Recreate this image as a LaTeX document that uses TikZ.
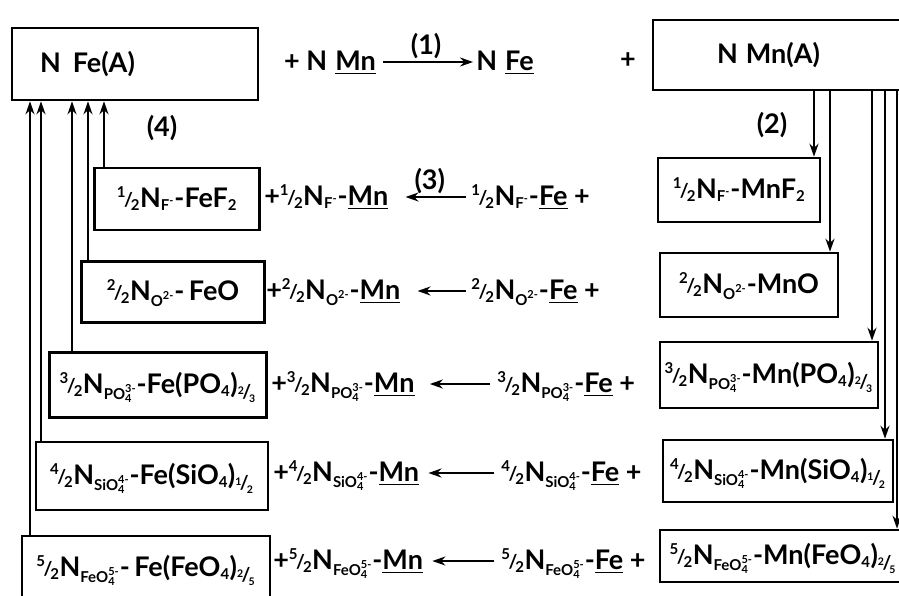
\documentclass[tikz,border=0pt]{standalone}
\usepackage{amsmath}
\usepackage{fontspec}
\setmainfont{Lato}
\usetikzlibrary{arrows.meta}
\DeclareMathSizes{27}{27}{15}{11}

\newcommand\fr[2]{${}^{\text{#1}}$\kern-2pt\raisebox{1pt}{\fontsize{19}{19}\selectfont/}\kern-2pt${}_{\text{#2}}$}
\newcommand\ion[3]{$_{\text{#1}^{\text{#3}}_{\text{#2}}}$}
\newcommand\lo[1]{$_{\text{#1}}$}

\begin{document}
\begin{tikzpicture}[
  x=1pt, y=-1pt,
  every node/.style={font=\fontsize{27}{29}\selectfont\bfseries, inner sep=0pt,
                     text height=20pt, text depth=4pt},
  box/.style={draw, line width=2.6pt},
  line width=2.6pt, ->, >={Stealth[length=13pt,width=9pt]}
]
  \useasboundingbox (0,0) rectangle (899,595);

  % top row
  \node[box, minimum width=246pt, minimum height=72pt, text width=190pt,
        align=left, inner xsep=28pt] (feA) at (135,64) {N\hspace{12pt}Fe(A)};
  \node (mnB) at (330,62) {+ N\hspace{8pt}\underline{Mn}};
  \node (feB) at (505,62) {N\hspace{8pt}\underline{Fe}};
  \node (pl)  at (628,60) {+};
  \node[box, minimum width=252pt, minimum height=70pt, text width=124pt,
        align=left, inner xsep=64pt] (mnA) at (779,55) {N\hspace{8pt}Mn(A)};
  \draw[shorten <=6pt, shorten >=2pt] (mnB) -- node[above=2pt] (s1) {(1)} (feB);

  \node (n4) at (162,128) {(4)};
  \node (n2) at (772,125) {(2)};

  % left boxes
  \node[box, minimum width=165pt, minimum height=62pt] (fe1) at (177,199)
    {\fr12N\ion{F}{}{-}-FeF\lo2};
  \node[box, minimum width=183pt, minimum height=61pt] (fe2) at (173,292)
    {\fr22N\ion{O}{}{2-}-\,FeO};
  \node[box, minimum width=217pt, minimum height=65pt] (fe3) at (158,385)
    {\fr32N\ion{PO}{4}{3-}-Fe(PO\lo4)\lo{\fr23}};
  \node[box, minimum width=232pt, minimum height=68pt] (fe4) at (152,476)
    {\fr42N\ion{SiO}{4}{4-}-Fe(SiO\lo4)\lo{\fr12}};
  \node[box, minimum width=248pt, minimum height=64pt] (fe5) at (146,568)
    {\fr52N\ion{FeO}{4}{5-}-\,Fe(FeO\lo4)\lo{\fr25}};

  % middle terms
  \node[anchor=west] (a1) at (263,197) {+\fr12N\ion{F}{}{-}-\underline{Mn}};
  \node[anchor=west] (b1) at (470,197) {\fr12N\ion{F}{}{-}-\underline{Fe} +};
  \node[anchor=west] (a2) at (265,291) {+\fr22N\ion{O}{}{2-}-\underline{Mn}};
  \node[anchor=west] (b2) at (470,291) {\fr22N\ion{O}{}{2-}-\underline{Fe} +};
  \node[anchor=west] (a3) at (270,384) {+\fr32N\ion{PO}{4}{3-}-\underline{Mn}};
  \node[anchor=west] (b3) at (496,384) {\fr32N\ion{PO}{4}{3-}-\underline{Fe} +};
  \node[anchor=west] (a4) at (272,473) {+\fr42N\ion{SiO}{4}{4-}-\underline{Mn}};
  \node[anchor=west] (b4) at (500,473) {\fr42N\ion{SiO}{4}{4-}-\underline{Fe} +};
  \node[anchor=west] (a5) at (272,561) {+\fr52N\ion{FeO}{4}{5-}-\underline{Mn}};
  \node[anchor=west] (b5) at (500,561) {\fr52N\ion{FeO}{4}{5-}-\underline{Fe} +};

  % right boxes
  \node[box, minimum width=162pt, minimum height=64pt] (mn1) at (739,190)
    {\fr12N\ion{F}{}{-}-MnF\lo2};
  \node[box, minimum width=178pt, minimum height=64pt] (mn2) at (749,285)
    {\fr22N\ion{O}{}{2-}-MnO};
  \node[box, minimum width=218pt, minimum height=66pt] (mn3) at (769,375)
    {\fr32N\ion{PO}{4}{3-}-Mn(PO\lo4)\lo{\fr23}};
  \node[box, minimum width=230pt, minimum height=62pt] (mn4) at (778,471)
    {\fr42N\ion{SiO}{4}{4-}-Mn(SiO\lo4)\lo{\fr12}};
  \node[box, minimum width=246pt, minimum height=52pt] (mn5) at (783,556)
    {\fr52N\ion{FeO}{4}{5-}-Mn(FeO\lo4)\lo{\fr25}};

  % reverse reactions
  \draw[shorten <=4pt, shorten >=16pt] (b1) -- node[above=2pt] (s3) {(3)} (a1);
  \draw[shorten <=4pt, shorten >=16pt] (b2) -- (a2);
  \draw[shorten <=6pt, shorten >=14pt] (b3) -- (a3);
  \draw[shorten <=6pt, shorten >=8pt] (b4) -- (a4);
  \draw[shorten <=6pt, shorten >=8pt] (b5) -- (a5);

  % columns
  \coordinate (c1) at (104,0);
  \coordinate (c2) at (88,0);
  \coordinate (c3) at (72,0);
  \coordinate (c4) at (41,0);
  \coordinate (c5) at (30,0);
  \coordinate (d1) at (814,0);
  \coordinate (d2) at (830,0);
  \coordinate (d3) at (872,0);
  \coordinate (d4) at (885,0);
  \coordinate (d5) at (897,0);

  \draw (c1 |- fe1.north) -- (c1 |- feA.south);
  \draw (c2 |- fe2.north) -- (c2 |- feA.south);
  \draw (c3 |- fe3.north) -- (c3 |- feA.south);
  \draw (c4 |- fe4.north) -- (c4 |- feA.south);
  \draw (c5 |- fe5.north) -- (c5 |- feA.south);

  \draw (d1 |- mnA.south) -- (d1 |- mn1.north);
  \draw (d2 |- mnA.south) -- (d2 |- mn2.north);
  \draw (d3 |- mnA.south) -- (d3 |- mn3.north);
  \draw (d4 |- mnA.south) -- (d4 |- mn4.north);
  \draw (d5 |- mnA.south) -- (d5 |- mn5.north);
\end{tikzpicture}
\end{document}
